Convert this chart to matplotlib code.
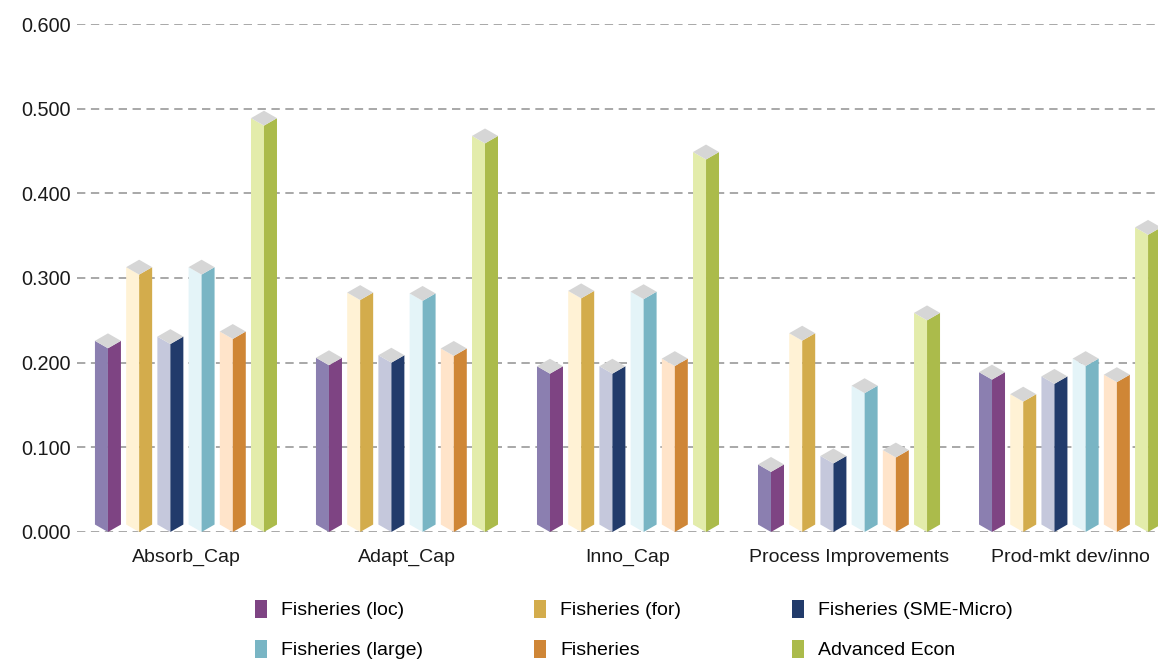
import numpy as np
import matplotlib
matplotlib.use("Agg")
import matplotlib.pyplot as plt
from matplotlib.patches import Polygon, Patch

plt.rcParams['font.family'] = ['Liberation Sans', 'DejaVu Sans']
plt.rcParams['lines.scale_dashes'] = False

categories = ["Absorb_Cap", "Adapt_Cap", "Inno_Cap", "Process Improvements", "Prod-mkt dev/inno"]
labels = ["Fisheries (loc)", "Fisheries (for)", "Fisheries (SME-Micro)",
          "Fisheries (large)", "Fisheries", "Advanced Econ"]

fish_loc = [0.217, 0.197, 0.187, 0.071, 0.180]
fish_for = [0.304, 0.274, 0.276, 0.226, 0.154]
fish_sme = [0.222, 0.200, 0.187, 0.081, 0.175]
fish_large = [0.304, 0.273, 0.275, 0.164, 0.196]
fish_all = [0.228, 0.208, 0.196, 0.088, 0.177]
adv_econ = [0.480, 0.459, 0.440, 0.250, 0.351]
series = [fish_loc, fish_for, fish_sme, fish_large, fish_all, adv_econ]

# lit (left) face and shaded (right) face of each prism
light_cols = ["#8B7FB0", "#FFF2D5", "#C5C8DC", "#E4F4F8", "#FFE4CA", "#E3ECAB"]
dark_cols = ["#7E4483", "#D3AC4C", "#223B6B", "#79B5C4", "#CF8636", "#ABBB4B"]
top_col = "#D6D6D6"

yticks = [0.0, 0.1, 0.2, 0.3, 0.4, 0.5, 0.6]

fig = plt.figure(figsize=(11.58, 6.63), dpi=100)
ax = fig.add_axes([0.0665, 0.1976, 0.9335, 0.7662])

step = 0.1412   # spacing between bars within a group
w = 0.0588      # half width of a prism
d = 0.0088      # vertical rise of the side corners

x = np.arange(len(categories))
for k, vals in enumerate(series):
    xs = x + (k - 2.5) * step
    for xc, v in zip(xs, vals):
        left = [(xc - w, d), (xc, 0), (xc, v), (xc - w, v + d)]
        right = [(xc, 0), (xc + w, d), (xc + w, v + d), (xc, v)]
        top = [(xc, v), (xc - w, v + d), (xc, v + 2 * d), (xc + w, v + d)]
        ax.add_patch(Polygon(left, closed=True, fc=light_cols[k], ec="none", zorder=3))
        ax.add_patch(Polygon(right, closed=True, fc=dark_cols[k], ec="none", zorder=3))
        ax.add_patch(Polygon(top, closed=True, fc=top_col, ec="none", zorder=3))

for yv in yticks:
    ax.axhline(yv, color="#999999", lw=1.2, ls=(0, (6, 4)), zorder=1)

ax.set_xlim(-0.493, 4.398)
ax.set_ylim(0, 0.6)
ax.set_yticks(yticks)
ax.set_yticklabels([f"{v:.3f}" for v in yticks])
ax.set_xticks(x)
ax.set_xticklabels(categories)
ax.tick_params(axis="y", length=0, pad=4.5, labelsize=14.3, labelcolor="#1a1a1a")
ax.tick_params(axis="x", length=0, pad=12, labelsize=14, labelcolor="#1a1a1a")
for s in ax.spines.values():
    s.set_visible(False)

# legend reads row by row, so feed entries column by column
order = [0, 3, 1, 4, 2, 5]
handles = [Patch(fc=dark_cols[i], ec="none") for i in order]
fig.legend(handles, [labels[i] for i in order], ncol=3, loc="center",
           bbox_to_anchor=(0.5475, 0.0505), frameon=False, fontsize=14,
           handlelength=0.62, handleheight=1.03, handletextpad=0.72,
           columnspacing=5.7, labelspacing=1.05)

fig.savefig("out.png", dpi=100)
